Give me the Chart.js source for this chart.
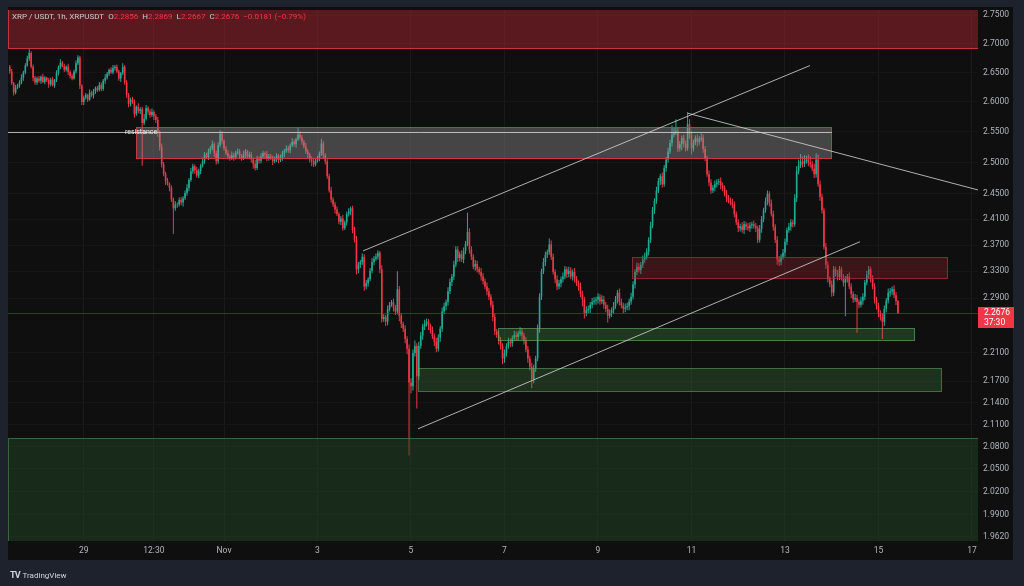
<!DOCTYPE html>
<html>
<head>
<meta charset="utf-8">
<title>XRP / USDT 1h</title>
<script src="https://cdn.jsdelivr.net/npm/chart.js@4.4.1/dist/chart.umd.min.js"></script>
<style>
  html, body { margin: 0; padding: 0; background: #1e222d; }
  #wrap { position: relative; width: 1024px; height: 586px; overflow: hidden; }
  canvas { display: block; }
  #legend { position: absolute; left: 12px; top: 12px; font: 8px Roboto, sans-serif; line-height: 10px; color: #c9cbd1; white-space: nowrap; }
  #legend .g { margin-left: 4px; }
  #legend .v { color: #f23645; }
  #brand { position: absolute; left: 10px; top: 570px; font: 8px Roboto, sans-serif; color: #d1d4dc; white-space: nowrap; }
  #brand b { font-size: 9px; letter-spacing: -1px; margin-right: 3px; }
</style>
</head>
<body>
<div id="wrap">
  <canvas id="chart" width="1024" height="586"></canvas>
  <div id="legend">XRP / USDT, 1h, XRPUSDT<span class="g">O<span class="v">2.2856</span></span><span class="g">H<span class="v">2.2869</span></span><span class="g">L<span class="v">2.2667</span></span><span class="g">C<span class="v">2.2676</span></span><span class="g v">&minus;0.0181 (&minus;0.79%)</span></div>
  <div id="brand"><b>TV</b>TradingView</div>
</div>
<script>
// hourly candles, x = hours from Nov 1 00:00
const firstHour = -110;   // Oct 27 10:00
const firstOpen = 2.66;

const closes = [
  // Oct 27
  2.652,2.632,2.616,2.624,2.628,2.633,2.641,2.650,2.662,2.674,2.684,2.660,2.641,2.633,
  // Oct 28
  2.640,2.636,2.643,2.634,2.641,2.637,2.630,2.638,2.628,2.637,2.650,2.659,2.667,2.661,2.655,2.660,2.651,2.644,2.640,2.652,2.666,2.676,2.628,2.600,
  // Oct 29
  2.607,2.612,2.604,2.616,2.611,2.618,2.624,2.620,2.629,2.622,2.636,2.641,2.648,2.655,2.650,2.658,2.660,2.652,2.640,2.649,2.660,2.633,2.612,2.597,
  // Oct 30
  2.604,2.600,2.580,2.592,2.585,2.588,2.565,2.572,2.590,2.584,2.578,2.583,2.576,2.570,2.550,2.525,2.497,2.482,2.470,2.466,2.459,2.441,2.427,2.433,
  // Oct 31
  2.433,2.440,2.436,2.443,2.451,2.459,2.472,2.486,2.494,2.488,2.479,2.486,2.495,2.502,2.513,2.509,2.518,2.523,2.530,2.515,2.502,2.528,2.547,2.535,
  // Nov 1
  2.523,2.515,2.510,2.507,2.512,2.509,2.516,2.518,2.511,2.507,2.513,2.518,2.510,2.513,2.505,2.498,2.491,2.507,2.503,2.510,2.515,2.513,2.506,2.510,
  // Nov 2
  2.508,2.502,2.505,2.511,2.504,2.507,2.515,2.519,2.523,2.520,2.528,2.534,2.530,2.538,2.546,2.541,2.534,2.526,2.518,2.513,2.505,2.502,2.497,2.503,
  // Nov 3
  2.507,2.515,2.531,2.512,2.502,2.478,2.455,2.441,2.433,2.425,2.418,2.406,2.411,2.396,2.405,2.418,2.422,2.427,2.393,2.378,2.333,2.340,2.344,2.352,
  // Nov 4
  2.307,2.312,2.318,2.331,2.344,2.349,2.352,2.358,2.333,2.259,2.262,2.255,2.274,2.280,2.284,2.276,2.270,2.303,2.264,2.252,2.245,2.230,2.216,2.168,
  // Nov 5
  2.163,2.210,2.220,2.177,2.220,2.235,2.248,2.252,2.255,2.249,2.243,2.234,2.226,2.216,2.232,2.245,2.270,2.278,2.284,2.300,2.314,2.322,2.340,2.363,
  // Nov 6
  2.350,2.356,2.348,2.361,2.372,2.390,2.363,2.352,2.337,2.341,2.333,2.329,2.322,2.315,2.307,2.300,2.292,2.280,2.262,2.241,2.236,2.228,2.220,2.202,
  // Nov 7
  2.210,2.220,2.226,2.224,2.231,2.236,2.233,2.238,2.241,2.235,2.227,2.215,2.202,2.190,2.173,2.188,2.202,2.245,2.292,2.330,2.344,2.355,2.359,2.371,
  // Nov 8
  2.352,2.329,2.318,2.307,2.312,2.318,2.322,2.333,2.326,2.331,2.322,2.329,2.318,2.312,2.307,2.296,2.288,2.268,2.272,2.274,2.280,2.284,2.286,2.288,
  // Nov 9
  2.292,2.285,2.288,2.280,2.274,2.264,2.268,2.272,2.278,2.288,2.298,2.284,2.279,2.274,2.276,2.278,2.285,2.292,2.310,2.329,2.337,2.332,2.340,2.348,
  // Nov 10
  2.352,2.360,2.378,2.400,2.424,2.439,2.455,2.470,2.478,2.465,2.491,2.505,2.518,2.532,2.546,2.549,2.551,2.523,2.530,2.540,2.531,2.523,2.563,2.545,
  // Nov 11
  2.523,2.532,2.540,2.534,2.538,2.540,2.522,2.507,2.481,2.468,2.455,2.460,2.465,2.468,2.470,2.463,2.459,2.450,2.443,2.440,2.436,2.433,2.418,2.405,
  // Nov 12
  2.396,2.399,2.393,2.402,2.398,2.396,2.400,2.402,2.399,2.396,2.378,2.395,2.410,2.424,2.438,2.450,2.435,2.418,2.398,2.378,2.348,2.344,2.352,2.358,
  // Nov 13
  2.375,2.393,2.398,2.405,2.402,2.443,2.486,2.495,2.502,2.498,2.502,2.505,2.500,2.497,2.490,2.481,2.505,2.465,2.445,2.424,2.367,2.340,2.318,2.310,
  // Nov 14
  2.298,2.333,2.326,2.322,2.333,2.320,2.313,2.318,2.322,2.307,2.296,2.288,2.290,2.284,2.280,2.286,2.292,2.313,2.325,2.333,2.318,2.307,2.288,2.278,
  // Nov 15
  2.268,2.262,2.255,2.274,2.286,2.298,2.300,2.303,2.294,2.2856,2.2676
];

// wick lengths above / below the body, in thousandths
const wickUp = [
  3,4,2,5,3,4,6,3,4,5,8,3,4,3,
  3,4,2,5,3,2,4,3,5,2,4,3,6,3,4,2,5,3,4,3,5,4,3,2,
  4,3,2,5,3,4,2,3,5,4,3,6,3,2,4,5,3,4,3,2,6,3,4,3,
  3,5,4,2,6,3,4,8,5,3,4,6,3,4,5,3,6,4,3,5,2,4,3,5,
  3,4,5,3,4,6,3,5,4,3,5,4,3,6,4,3,5,4,6,3,4,5,6,4,
  3,4,5,3,6,4,3,5,4,3,6,4,3,5,4,3,6,4,3,5,4,3,6,4,
  4,3,5,4,3,6,4,3,5,4,3,6,4,3,11,5,4,3,6,4,3,5,4,3,
  4,3,8,4,3,5,4,6,3,4,5,3,4,6,3,4,5,3,4,5,6,4,3,5,
  4,5,3,4,6,4,5,4,3,6,4,3,5,4,3,5,4,27,5,4,3,5,4,6,
  6,5,8,4,6,5,4,6,5,4,3,5,4,6,5,4,6,5,4,6,5,4,6,5,
  5,4,6,5,4,30,6,5,4,6,5,4,6,5,4,6,5,4,6,5,4,6,5,4,
  5,4,6,5,4,6,5,4,6,5,4,6,5,4,6,5,4,6,5,4,6,5,4,9,
  6,5,4,6,5,4,6,5,4,6,5,4,6,5,4,6,5,4,6,5,4,6,5,4,
  5,4,6,5,4,6,5,4,6,5,4,6,5,4,6,5,4,6,5,4,6,5,4,6,
  6,5,4,6,5,4,6,5,4,6,5,4,6,5,15,8,20,6,5,4,6,5,20,8,
  6,5,4,6,5,8,6,5,4,6,5,4,6,5,4,6,5,4,6,5,4,6,5,4,
  5,4,6,5,4,6,5,4,6,5,4,6,5,4,6,5,4,6,5,4,6,5,4,6,
  5,4,6,5,4,6,8,10,12,8,10,6,8,10,6,8,10,8,6,5,4,6,5,4,
  6,5,4,6,5,4,6,5,4,6,5,4,6,5,4,6,5,4,6,5,4,6,5,4,
  5,4,6,5,4,6,5,4,6,5,1.3
];
const wickDn = [
  4,3,5,3,2,4,3,5,3,2,4,3,6,4,
  4,3,5,2,4,3,6,3,2,4,3,5,3,2,4,3,5,4,3,2,4,3,6,5,
  5,3,4,2,3,5,4,3,2,4,3,5,3,4,2,3,5,3,4,6,3,4,5,6,
  4,3,6,3,4,5,70,4,3,5,4,3,6,5,8,6,5,4,6,3,5,4,40,4,
  5,3,4,6,3,4,5,3,4,6,3,4,5,3,4,3,5,4,3,6,5,4,3,5,
  4,3,5,4,3,6,4,3,5,4,3,6,4,3,5,8,4,3,5,4,3,6,4,3,
  4,6,3,4,5,3,4,6,3,4,5,3,4,6,3,4,5,3,4,6,5,8,4,3,
  3,5,4,6,5,4,3,5,4,6,3,4,5,4,3,5,4,6,5,4,8,6,5,4,
  6,4,5,3,4,5,3,4,6,5,4,6,5,4,3,6,5,4,8,6,5,6,8,100,
  10,6,5,45,5,4,6,5,4,6,5,4,6,5,4,6,5,4,6,5,4,6,5,4,
  6,5,4,6,5,4,6,5,4,6,5,4,6,5,4,6,5,4,6,5,4,6,5,8,
  6,5,4,6,5,4,6,5,4,6,5,4,6,5,13,6,5,4,6,5,4,6,5,4,
  5,4,6,5,4,6,5,4,6,5,4,6,5,4,6,5,10,8,5,4,6,5,4,6,
  6,5,4,6,5,10,4,6,5,4,6,5,4,6,5,4,6,5,4,6,5,4,6,5,
  5,4,6,5,4,6,5,4,6,5,4,6,5,4,6,5,4,6,5,10,6,5,4,6,
  10,5,4,8,5,4,6,5,4,6,5,4,6,5,4,6,5,4,6,5,4,6,5,4,
  6,5,4,6,5,4,6,5,4,6,5,4,6,5,4,6,5,4,6,5,8,6,5,4,
  6,5,4,6,5,4,6,5,4,6,5,4,6,5,4,6,5,4,6,5,4,6,5,4,
  6,5,4,6,5,4,6,50,5,4,6,5,4,45,5,4,6,5,4,6,5,4,6,5,
  6,5,25,6,5,4,6,5,4,6,0.9
];

const yTicks = [2.75,2.70,2.65,2.60,2.55,2.50,2.45,2.41,2.37,2.33,2.29,2.21,2.17,2.14,2.11,2.08,2.05,2.02,1.99,1.962];
const xTickHours = [-72,-36,0,48,96,144,192,240,288,336,384];
const xTickLabels = ['29','12:30','Nov','3','5','7','9','11','13','15','17'];

// drawn zones: [fromHour, toHour, lowPrice, highPrice]
const zones = [
  [-111, 388, 2.691, 2.80],
  [-45.2, 312.1, 2.5054, 2.5575],
  [209.4, 371.7, 2.3191, 2.3521],
  [140.7, 354.7, 2.2269, 2.2456],
  [99.6, 368.6, 2.1549, 2.1885],
  [-111, 388, 1.90, 2.092]
];
// drawn lines: [fromHour, fromPrice, toHour, toPrice]
const lines = [
  [-111, 2.550, 312.1, 2.550],
  [71.4, 2.361, 300.8, 2.662],
  [99.6, 2.104, 326.5, 2.375],
  [238.2, 2.581, 387.1, 2.456]
];
const lineLabel = { text: 'resistance', hour: -42.6, price: 2.550 };
const lastPrice = 2.2676;
const countdown = '37:30';

const UP = '#22ab94', DOWN = '#f23645';
const zoneStyle = [
  { fill: 'rgba(165,36,48,0.5)', line: 'rgba(205,55,65,0.9)' },
  { fill: 'rgba(150,150,150,0.4)', line: 'rgba(210,55,70,0.9)' },
  { fill: 'rgba(170,38,50,0.3)', line: 'rgba(190,50,60,0.6)' },
  { fill: 'rgba(76,150,76,0.3)', line: 'rgba(100,170,100,0.6)' },
  { fill: 'rgba(76,150,76,0.25)', line: 'rgba(100,170,100,0.5)' },
  { fill: 'rgba(35,75,38,0.45)', line: 'rgba(80,140,80,0.6)' }
];

// build candles
const candles = closes.map((c, i) => {
  const o = i ? closes[i - 1] : firstOpen;
  return {
    x: firstHour + i,
    o, c,
    hi: Math.max(o, c) + wickUp[i] / 1000,
    lo: Math.min(o, c) - wickDn[i] / 1000
  };
});
const colors = candles.map(k => k.c >= k.o ? UP : DOWN);

// snap a pixel coordinate to the middle of a pixel so 1px lines stay crisp
const crisp = v => Math.round(v) + 0.5;

const tvPlugin = {
  id: 'tv',
  beforeDraw(chart) {
    const c = chart.ctx;
    c.save();
    c.fillStyle = '#1e222d';
    c.fillRect(0, 0, chart.width, chart.height);
    c.fillStyle = '#0f0f0f';
    c.fillRect(8, 7, 1005, 553);
    c.restore();
  },
  afterDatasetsDraw(chart) {
    const { ctx, chartArea: a, scales: { x, y } } = chart;
    ctx.save();
    ctx.beginPath();
    ctx.rect(a.left, a.top, a.right - a.left, a.bottom - a.top);
    ctx.clip();
    ctx.lineWidth = 1;

    // current price line
    const py = crisp(y.getPixelForValue(lastPrice));
    ctx.strokeStyle = 'rgba(200,40,55,0.55)';
    ctx.beginPath(); ctx.moveTo(a.left, py); ctx.lineTo(a.right, py); ctx.stroke();

    zones.forEach((z, i) => {
      const x1 = Math.round(x.getPixelForValue(z[0])), x2 = Math.round(x.getPixelForValue(z[1]));
      const y1 = Math.round(y.getPixelForValue(z[3])), y2 = Math.round(y.getPixelForValue(z[2]));
      ctx.fillStyle = zoneStyle[i].fill;
      ctx.fillRect(x1, y1, x2 - x1, y2 - y1);
      ctx.strokeStyle = zoneStyle[i].line;
      ctx.strokeRect(x1 + 0.5, y1 + 0.5, x2 - x1 - 1, y2 - y1 - 1);
    });

    ctx.strokeStyle = 'rgba(215,215,215,0.8)';
    lines.forEach(l => {
      let y1 = y.getPixelForValue(l[1]), y2 = y.getPixelForValue(l[3]);
      if (l[1] === l[3]) { y1 = y2 = crisp(y1); }
      ctx.beginPath();
      ctx.moveTo(x.getPixelForValue(l[0]), y1);
      ctx.lineTo(x.getPixelForValue(l[2]), y2);
      ctx.stroke();
    });

    ctx.font = '7px Roboto, sans-serif';
    ctx.fillStyle = '#f0f0f0';
    ctx.textAlign = 'center';
    ctx.textBaseline = 'middle';
    ctx.fillText(lineLabel.text, x.getPixelForValue(lineLabel.hour), y.getPixelForValue(lineLabel.price));
    ctx.restore();
  },
  afterDraw(chart) {
    const { ctx, chartArea: a, scales: { y } } = chart;
    const py = y.getPixelForValue(lastPrice);
    ctx.save();
    ctx.fillStyle = DOWN;
    ctx.fillRect(a.right, Math.round(py) - 6, 36, 21);
    ctx.fillStyle = '#ffffff';
    ctx.font = '8.5px Roboto, sans-serif';
    ctx.textAlign = 'left';
    ctx.textBaseline = 'middle';
    ctx.fillText(lastPrice.toFixed(4), a.right + 6, py);
    ctx.fillText(countdown, a.right + 6, py + 10);
    ctx.restore();
  }
};

new Chart(document.getElementById('chart'), {
  type: 'bar',
  data: {
    datasets: [
      {
        label: 'wick',
        data: candles.map(k => ({ x: k.x, y: [k.lo, k.hi] })),
        backgroundColor: colors,
        barThickness: 1,
        inflateAmount: 0,
        grouped: false,
        order: 2
      },
      {
        label: 'body',
        data: candles.map(k => ({ x: k.x, y: [Math.min(k.o, k.c), Math.max(k.o, k.c)] })),
        backgroundColor: colors,
        barThickness: 1.6,
        inflateAmount: 0,
        grouped: false,
        order: 1
      }
    ]
  },
  options: {
    responsive: false,
    animation: false,
    devicePixelRatio: 1,
    events: [],
    layout: { padding: { left: 8, top: 7, right: 11, bottom: 26 } },
    plugins: { legend: { display: false }, tooltip: { enabled: false } },
    scales: {
      x: {
        type: 'linear',
        min: -110.9,
        max: 387.1,
        offset: false,
        grid: { color: '#1a1a1a', drawTicks: false, offset: false },
        border: { display: false },
        ticks: {
          autoSkip: false,
          maxRotation: 0,
          padding: 5,
          color: '#b2b5be',
          font: { family: 'Roboto', size: 8.5 },
          callback: v => xTickLabels[xTickHours.indexOf(v)]
        },
        afterBuildTicks: s => { s.ticks = xTickHours.map(v => ({ value: v })); },
        afterFit: s => { s.height = 19; }
      },
      y: {
        type: 'logarithmic',
        position: 'right',
        min: 1.9566,
        max: 2.7594,
        grid: { color: '#161616', drawTicks: false },
        border: { display: false },
        ticks: {
          autoSkip: false,
          padding: 5,
          color: '#b2b5be',
          font: { family: 'Roboto', size: 8.5 },
          callback: v => Number(v).toFixed(4)
        },
        afterBuildTicks: s => { s.ticks = yTicks.map(v => ({ value: v })); },
        afterFit: s => { s.width = 35; }
      }
    }
  },
  plugins: [tvPlugin]
});
</script>
</body>
</html>
